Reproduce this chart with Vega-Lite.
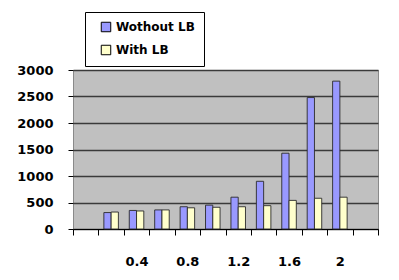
{
  "$schema": "https://vega.github.io/schema/vega-lite/v6.json",
  "width": 305,
  "height": 159,
  "autosize": {"type": "none"},
  "padding": {"left": 73, "top": 70, "right": 21, "bottom": 51},
  "background": "white",
  "config": {
    "view": {"fill": "#C0C0C0", "stroke": "#8a8a8a", "strokeWidth": 1},
    "font": "DejaVu Sans"
  },
  "data": {
    "values": [
      {"load": "0.2", "series": "Wothout LB", "value": 310},
      {"load": "0.2", "series": "With LB", "value": 320},
      {"load": "0.4", "series": "Wothout LB", "value": 350},
      {"load": "0.4", "series": "With LB", "value": 340},
      {"load": "0.6", "series": "Wothout LB", "value": 360},
      {"load": "0.6", "series": "With LB", "value": 360},
      {"load": "0.8", "series": "Wothout LB", "value": 420},
      {"load": "0.8", "series": "With LB", "value": 400},
      {"load": "1", "series": "Wothout LB", "value": 450},
      {"load": "1", "series": "With LB", "value": 410},
      {"load": "1.2", "series": "Wothout LB", "value": 600},
      {"load": "1.2", "series": "With LB", "value": 420},
      {"load": "1.4", "series": "Wothout LB", "value": 900},
      {"load": "1.4", "series": "With LB", "value": 440},
      {"load": "1.6", "series": "Wothout LB", "value": 1430},
      {"load": "1.6", "series": "With LB", "value": 540},
      {"load": "1.8", "series": "Wothout LB", "value": 2480},
      {"load": "1.8", "series": "With LB", "value": 580},
      {"load": "2", "series": "Wothout LB", "value": 2790},
      {"load": "2", "series": "With LB", "value": 600}
    ]
  },
  "mark": {"type": "bar", "stroke": "#2a2a2a", "strokeWidth": 0.9},
  "encoding": {
    "x": {
      "field": "load",
      "type": "ordinal",
      "scale": {
        "domain": ["0", "0.2", "0.4", "0.6", "0.8", "1", "1.2", "1.4", "1.6", "1.8", "2", "2.2"],
        "paddingInner": 0,
        "paddingOuter": 0
      },
      "axis": {
        "title": null,
        "labelAngle": 0,
        "tickBand": "extent",
        "tickSize": 6,
        "tickColor": "#000",
        "domainColor": "#000",
        "domainWidth": 1,
        "labelPadding": 20,
        "labelFont": "DejaVu Sans",
        "labelFontWeight": "bold",
        "labelFontSize": 13,
        "labelColor": "#000",
        "labelExpr": "indexof(['0.4','0.8','1.2','1.6','2'], datum.label) >= 0 ? datum.label : ''"
      }
    },
    "xOffset": {
      "field": "series",
      "type": "nominal",
      "sort": ["Wothout LB", "With LB"],
      "scale": {"paddingInner": 0, "paddingOuter": 0.75}
    },
    "y": {
      "field": "value",
      "type": "quantitative",
      "scale": {"domain": [0, 3000], "nice": false},
      "axis": {
        "title": null,
        "values": [0, 500, 1000, 1500, 2000, 2500, 3000],
        "format": "d",
        "grid": true,
        "gridColor": "#3a3a3a",
        "gridWidth": 1.5,
        "domain": false,
        "tickSize": 5,
        "tickColor": "#000",
        "labelPadding": 15,
        "labelFont": "DejaVu Sans",
        "labelFontWeight": "bold",
        "labelFontSize": 13,
        "labelColor": "#000"
      }
    },
    "color": {
      "field": "series",
      "type": "nominal",
      "sort": ["Wothout LB", "With LB"],
      "scale": {"domain": ["Wothout LB", "With LB"], "range": ["#9999FF", "#FFFFCC"]},
      "legend": {
        "title": null,
        "orient": "none",
        "legendX": 12,
        "legendY": -58,
        "fillColor": "white",
        "strokeColor": "#000",
        "padding": 9,
        "symbolType": "square",
        "symbolSize": 90,
        "symbolStrokeColor": "#000",
        "symbolStrokeWidth": 1,
        "symbolOffset": 6,
        "rowPadding": 9,
        "labelFont": "DejaVu Sans",
        "labelFontWeight": "bold",
        "labelFontSize": 12,
        "labelColor": "#000",
        "labelOffset": 4
      }
    }
  }
}
